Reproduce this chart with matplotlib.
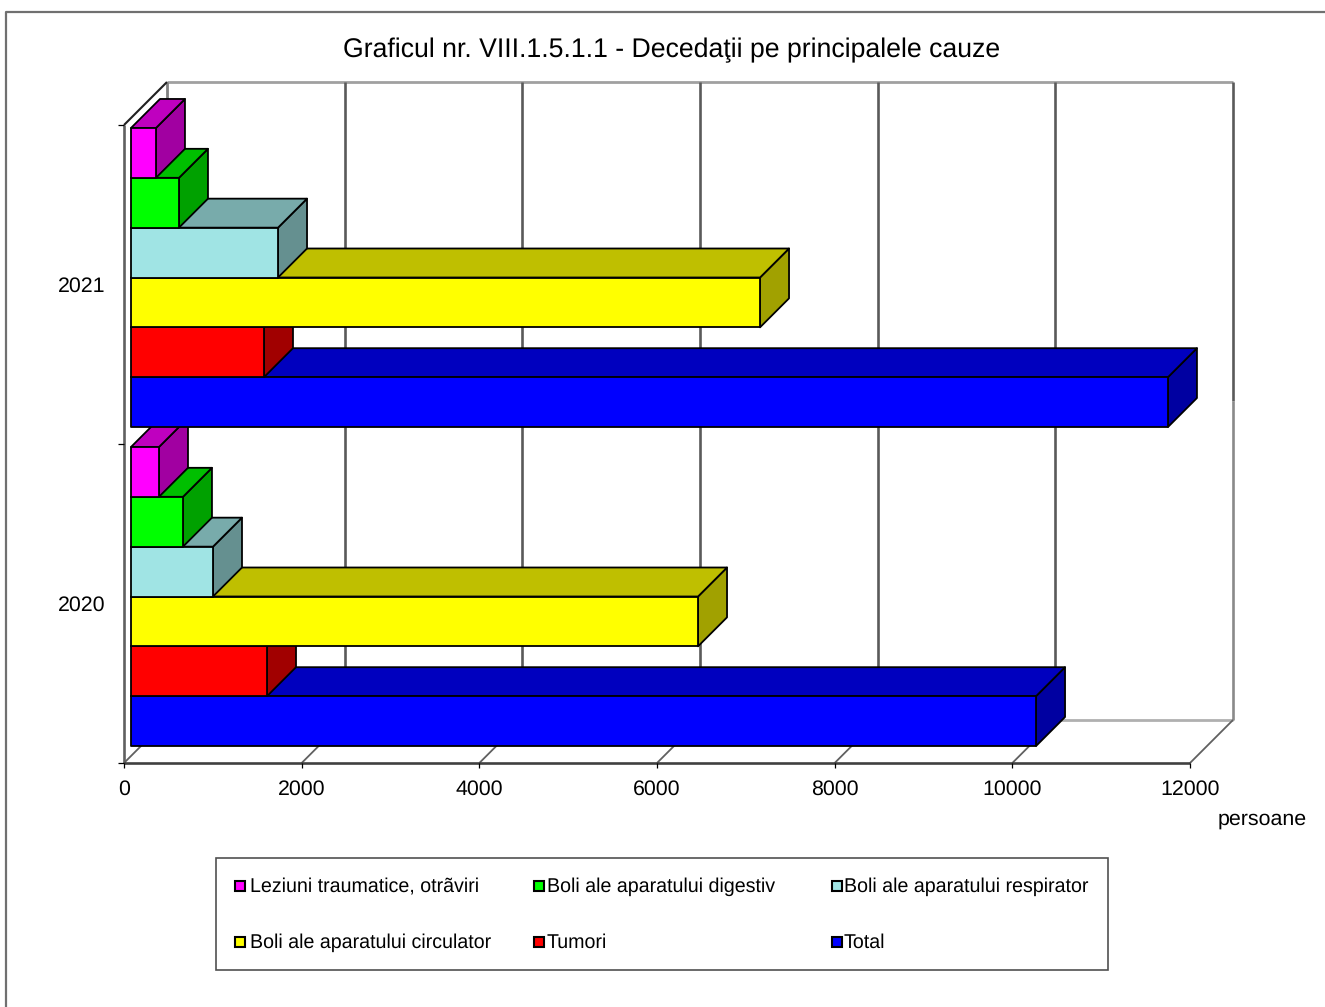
# Grafic 3D: decedatii pe principalele cauze, desenat cu poligoane
import matplotlib
matplotlib.use('Agg')
import matplotlib.pyplot as plt
from matplotlib.patches import Rectangle
import numpy as np

plt.rcParams['font.family'] = ['Liberation Sans', 'DejaVu Sans']
plt.rcParams['text.hinting'] = 'no_hinting'
plt.rcParams['text.hinting_factor'] = 8

# date
years = ['2020', '2021']
series = ['Total', 'Tumori', 'Boli ale aparatului circulator',
          'Boli ale aparatului respirator', 'Boli ale aparatului digestiv',
          'Leziuni traumatice, otrãviri']
val_2020 = [10188, 1531, 6383, 923, 585, 315]
val_2021 = [11673, 1497, 7081, 1655, 540, 281]
values = [val_2020, val_2021]
colors = ['#0000ff', '#ff0000', '#ffff00', '#a0e4e4', '#00ff00', '#ff00ff']
x_ticks = [0, 2000, 4000, 6000, 8000, 10000, 12000]

W, H = 1325, 1007
fig = plt.figure(figsize=(W/100, H/100), dpi=100, facecolor='white')
ax = fig.add_axes([124/W, (H-763)/H, 1066/W, 638/H])
ax.set_xlim(0, 12000)
ax.set_ylim(0, 2)
ax.axis('off')

# adancimea in pixeli, convertita in unitati de date
DEPTH = 43
dx = 12000/1066
dy = 2/638
bar_front = 7
bar_back = 36
bar_h = 1/6.4
gap = 0.2/6.4


def shade(col, f):
    c = np.array(matplotlib.colors.to_rgb(col))*f
    return tuple(c)


def wall(xs, ys, color, lw, z=1):
    ax.plot(xs, ys, color=color, lw=lw, clip_on=False, zorder=z,
            solid_capstyle='butt')


def poly(xs, ys, fc, z):
    ax.fill(xs, ys, facecolor=fc, edgecolor='black', lw=1.3, clip_on=False,
            zorder=z, joinstyle='round')


# peretii din spate
bx, by = DEPTH*dx, DEPTH*dy
wall([bx, 12000+bx], [2+by, 2+by], '#a0a0a0', 2.0)
wall([bx, 12000+bx], [by, by], '#b0b0b0', 2.0)
wall([bx, bx], [by, 2+by], '#808080', 2.0)
for t in x_ticks[1:-1]:
    wall([t+bx, t+bx], [by, 2+by], '#5a5a5a', 1.9)
# peretele din dreapta e mai deschis in partea de jos
wall([12000+bx, 12000+bx], [by+1.0, 2+by], '#5a5a5a', 1.9)
wall([12000+bx, 12000+bx], [by, by+1.0], '#8a8a8a', 1.9)
for t in x_ticks:
    wall([t, t+bx], [0, by], '#606060', 1.3)
wall([0, bx], [2, 2+by], '#202020', 1.5)
wall([0, 0], [0, 2], '#606060', 1.9)
wall([0, 12000], [0, 0], '#404040', 1.9)

# ticks
for t in x_ticks:
    wall([t, t], [0, -5*dy], 'black', 0.9)
    ax.text(t, -26*dy, str(t), ha='center', va='center', fontsize=15.4, color='black')
for i in range(3):
    wall([0, -6*dx], [i, i], 'black', 0.9)
for i, y in enumerate(years):
    ax.text(-19*dx, i+0.5-1.5*dy, y, ha='right', va='center', fontsize=15.4, color='black')

# bare: de jos in sus, fiecare o acopera partial pe cea de dedesubt
z = 5
for g in range(2):
    for s in range(6):
        v = values[g][s]
        x0 = bar_front*dx
        x1 = v+bar_front*dx
        d = (bar_back-bar_front)
        y0 = g+gap+s*bar_h+bar_front*dy
        y1 = y0+bar_h
        poly([x1, x1+d*dx, x1+d*dx, x1], [y0, y0+d*dy, y1+d*dy, y1], shade(colors[s], 0.63), z)
        poly([x0, x1, x1+d*dx, x0+d*dx], [y1, y1, y1+d*dy, y1+d*dy], shade(colors[s], 0.75), z)
        poly([x0, x1, x1, x0], [y0, y0, y1, y1], colors[s], z+1)
        z += 2

# titlu si unitate
fig.text(672/W, 1-50.5/H, 'Graficul nr. VIII.1.5.1.1 - Decedaţii pe principalele cauze',
         ha='center', va='center', fontsize=19.2, color='black')
fig.text(1262/W, 1-819/H, 'persoane', ha='center', va='center', fontsize=15.4, color='black')

# chenarul graficului
fig.add_artist(plt.Line2D([6/W, 6/W, 1], [0, 1-12/H, 1-12/H], color='#707070', lw=1.6))

# legenda
fig.add_artist(Rectangle((216/W, 1-970/H), 892/W, 112/H, transform=fig.transFigure,
                         facecolor='white', edgecolor='#505050', lw=1.2))
leg_order = [5, 4, 3, 2, 1, 0]
leg_x = [235, 534, 832]
leg_text_x = [250, 547, 844]
leg_y = [886, 942]
for k, s in enumerate(leg_order):
    lx = leg_x[k % 3]
    ly = leg_y[k//3]
    fig.add_artist(Rectangle((lx/W, 1-(ly+5)/H), 10/W, 10/H, transform=fig.transFigure,
                             facecolor=colors[s], edgecolor='black', lw=1.5))
    fig.text(leg_text_x[k % 3]/W, 1-(ly+1)/H, series[s], ha='left', va='center',
             fontsize=14.1, color='black')

fig.savefig('out.png', dpi=100)
